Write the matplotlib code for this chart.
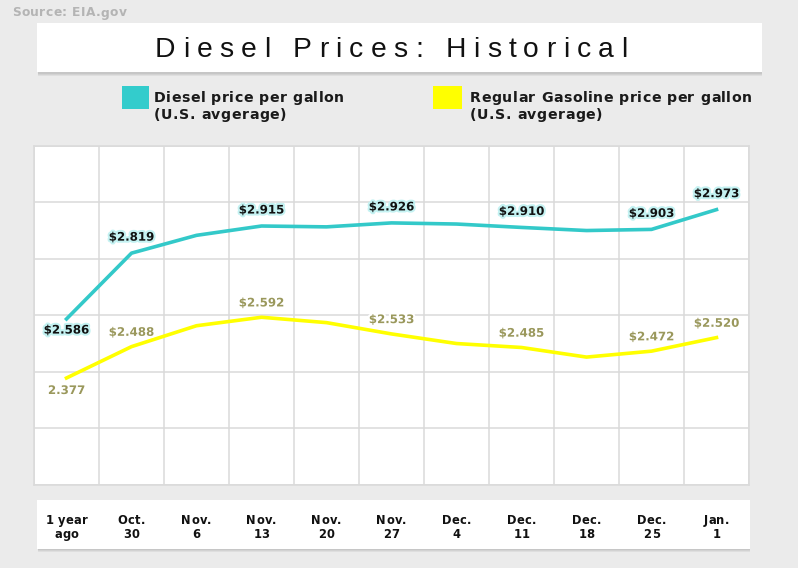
import matplotlib
matplotlib.use('Agg')
import numpy as np
import matplotlib.pyplot as plt
from matplotlib.patches import Rectangle
from matplotlib.font_manager import FontProperties
import matplotlib.patheffects as pe

# ---------------- data ----------------
categories = ["1 year\nago", "Oct.\n30", "Nov.\n6", "Nov.\n13", "Nov.\n20", "Nov.\n27",
              "Dec.\n4", "Dec.\n11", "Dec.\n18", "Dec.\n25", "Jan.\n1"]
diesel = [2.586, 2.819, 2.882, 2.915, 2.912, 2.926, 2.922, 2.910, 2.899, 2.903, 2.973]
gasoline = [2.377, 2.488, 2.562, 2.592, 2.573, 2.533, 2.499, 2.485, 2.451, 2.472, 2.520]
diesel_labels = ["$2.586", "$2.819", "", "$2.915", "", "$2.926", "", "$2.910", "", "$2.903", "$2.973"]
gas_labels = ["2.377", "$2.488", "", "$2.592", "", "$2.533", "", "$2.485", "", "$2.472", "$2.520"]
y_ticks = [2.0, 2.2, 2.4, 2.6, 2.8, 3.0, 3.2]
title = "Diesel Prices: Historical"
source = "Source: EIA.gov"
legend_diesel = ["Diesel price per gallon", "(U.S. avgerage)"]
legend_gas = ["Regular Gasoline price per gallon", "(U.S. avgerage)"]

# ---------------- style ----------------
W, H = 798, 568
BG = '#ebebeb'
GRID = '#dadada'
CYAN = '#33c9c9'
YELLOW = '#ffff00'
GAS_TXT = '#9a985c'

fig = plt.figure(figsize=(W / 100, H / 100), dpi=100, facecolor=BG)
renderer = fig.canvas.get_renderer()


def fx(x):
    return x / W


def fy(y):
    return 1 - y / H


def tw(s, fp):
    w, h, d = renderer.get_text_width_height_descent(s, fp, ismath=False)
    return w


def spaced(x, y, s, fp, spacing, color, ha='left', zorder=5):
    """Draw text s with letter spacing; x,y in pixels from top-left, y = baseline."""
    bar = tw('||', fp)
    advs = [tw('|' + c + '|', fp) - bar for c in s]
    total = sum(advs) + spacing * (len(s) - 1)
    if ha == 'center':
        x0 = x - total / 2
    elif ha == 'right':
        x0 = x - total
    else:
        x0 = x
    cx = x0
    for c, a in zip(s, advs):
        if c != ' ':
            fig.text(fx(cx + a / 2), fy(y), c, fontproperties=fp, color=color,
                     ha='center', va='baseline', zorder=zorder)
        cx += a + spacing


def box(x0, y0, x1, y1, shadow=True):
    if shadow:
        for off, col in [(3.5, '#dedede'), (2.5, '#d2d2d2'), (1.5, '#c6c6c6')]:
            fig.patches.append(Rectangle((fx(x0 + 1), fy(y1 + off)), fx(x1 - x0 - 1), (y1 + off - y0 - 2) / H,
                                         transform=fig.transFigure, facecolor=col,
                                         edgecolor='none', zorder=1))
    fig.patches.append(Rectangle((fx(x0), fy(y1)), fx(x1 - x0), (y1 - y0) / H,
                                 transform=fig.transFigure, facecolor='white',
                                 edgecolor='none', zorder=2))


# ---------------- source & title ----------------
fp_src = FontProperties(family='DejaVu Sans', weight='bold', size=8.8)
spaced(12, 16.5, source, fp_src, 0.4, '#b4b4b4')

box(37, 23, 762, 72)
fp_title = FontProperties(family='Liberation Sans', weight='normal', size=20.3)
spaced(155, 57.3, title, fp_title, 7.3, '#111111')

# ---------------- legend ----------------
fp_leg = FontProperties(family='DejaVu Sans', weight='bold', size=10.2)
fig.patches.append(Rectangle((fx(122), fy(109)), fx(27), 23 / H, transform=fig.transFigure,
                             facecolor='#33cccc', edgecolor='none', zorder=2))
spaced(154, 102, legend_diesel[0], fp_leg, 0.5, '#1a1a1a')
spaced(154, 119, legend_diesel[1], fp_leg, 0.5, '#1a1a1a')
fig.patches.append(Rectangle((fx(433), fy(109)), fx(29), 23 / H, transform=fig.transFigure,
                             facecolor=YELLOW, edgecolor='none', zorder=2))
spaced(470, 102, legend_gas[0], fp_leg, 0.5, '#1a1a1a')
spaced(470, 119, legend_gas[1], fp_leg, 0.5, '#1a1a1a')

# ---------------- plot area ----------------
ax = fig.add_axes([fx(34), fy(484.5), fx(749 - 34), (484.5 - 145.5) / H])
ax.set_facecolor('white')
n = len(categories)
ax.set_xlim(-0.5, n - 0.5)
ax.set_ylim(y_ticks[0], y_ticks[-1])
ax.set_xticks(np.arange(n + 1) - 0.5)
ax.set_yticks(y_ticks)
ax.tick_params(length=0, labelbottom=False, labelleft=False)
ax.grid(True, color=GRID, lw=1.1)
ax.set_axisbelow(True)
for s in ax.spines.values():
    s.set_color(GRID)
    s.set_linewidth(1.1)

x = np.arange(n)
ax.plot(x, diesel, color=CYAN, lw=2.6, zorder=3, solid_joinstyle='round')
ax.plot(x, gasoline, color=YELLOW, lw=2.6, zorder=3, solid_joinstyle='round')

fp_dl = FontProperties(family='DejaVu Sans', weight='bold', size=8.5)
for i, (v, lab) in enumerate(zip(diesel, diesel_labels)):
    if lab:
        off = -8.0 if i == 0 else 11.5
        ax.annotate(lab, (i, v), xytext=(0, off), textcoords='offset points',
                    ha='center', va='center', fontproperties=fp_dl, color='#111111',
                    parse_math=False, zorder=5,
                    path_effects=[pe.withStroke(linewidth=3, foreground='#c4f2f2')])
for i, (v, lab) in enumerate(zip(gasoline, gas_labels)):
    if lab:
        off = -9.0 if i == 0 else 10.3
        ax.annotate(lab, (i, v), xytext=(0, off), textcoords='offset points',
                    ha='center', va='center', fontproperties=fp_dl, color=GAS_TXT,
                    parse_math=False, zorder=5,
                    path_effects=[pe.withStroke(linewidth=3, foreground='white')])

# ---------------- category labels box ----------------
box(36.5, 500, 750, 548.5)
fp_tick = FontProperties(family='DejaVu Sans', weight='bold', size=8.3)
for i, cat in enumerate(categories):
    xp = ax.transData.transform((i, y_ticks[0]))[0]
    lines = cat.split('\n')
    for j, line in enumerate(lines):
        spaced(xp, 524.3 + 14 * j, line, fp_tick, 0.3, '#111111', ha='center')

fig.savefig('out.png', dpi=100, facecolor=BG)
